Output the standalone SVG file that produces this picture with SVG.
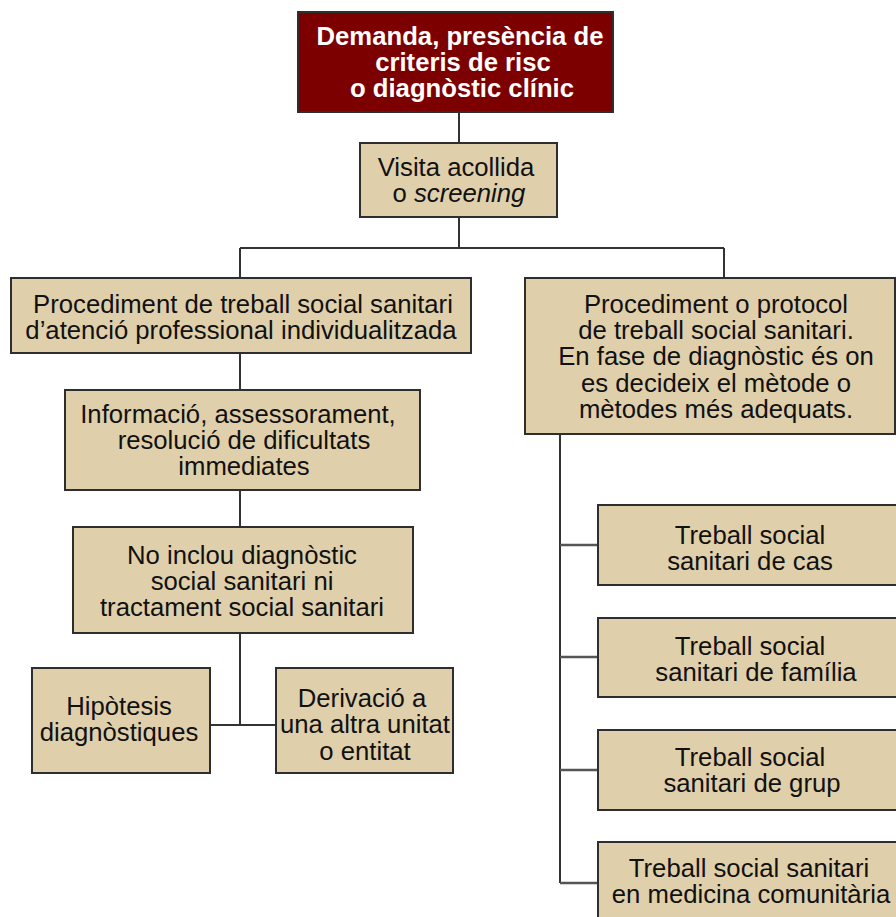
<svg xmlns="http://www.w3.org/2000/svg" width="896" height="917" viewBox="0 0 896 917">
<style>
.box{fill:#e0cfab;stroke:#2e2e2e;stroke-width:2}
.top{fill:#7d0000;stroke:#2e2e2e;stroke-width:2}
.t{font-family:"Liberation Sans",Arial,sans-serif;font-size:25.7px;fill:#111;text-anchor:middle}
.tw{font-family:"Liberation Sans",Arial,sans-serif;font-size:25.7px;font-weight:bold;fill:#fff;text-anchor:middle}
.c{fill:none;stroke:#333;stroke-width:2}
.cg{fill:none;stroke:#555;stroke-width:2.5}
</style>
<rect width="896" height="917" fill="#fff"/>
<g id="connectors">
<path class="c" d="M459 112V143M459 217V248M240 248H724M240 248V278M724 248V278"/>
<path class="c" d="M240 353V390M240 490V527M240 633V725M210 725H276"/>
<path class="c" d="M560 434V883"/>
<path class="cg" d="M560 545H598M560 657H598M560 770H598M560 883H598"/>
</g>
<g id="n-demanda">
<rect class="top" x="298" y="12" width="315" height="100"/>
<text class="tw" x="460" y="45">Demanda, presència de</text>
<text class="tw" x="463" y="71">criteris de risc</text>
<text class="tw" x="462" y="97">o diagnòstic clínic</text>
</g>
<g id="n-visita">
<rect class="box" x="360" y="143" width="197" height="74"/>
<text class="t" x="456" y="176">Visita acollida</text>
<text class="t" x="459" y="202">o <tspan font-style="italic">screening</tspan></text>
</g>
<g id="n-proc-ind">
<rect class="box" x="11" y="278" width="460" height="75"/>
<text class="t" x="243" y="313">Procediment de treball social sanitari</text>
<text class="t" x="241" y="339">d’atenció professional individualitzada</text>
</g>
<g id="n-proc-prot">
<rect class="box" x="525" y="278" width="370" height="156"/>
<text class="t" x="716" y="313">Procediment o protocol</text>
<text class="t" x="716" y="339">de treball social sanitari.</text>
<text class="t" x="716" y="365">En fase de diagnòstic és on</text>
<text class="t" x="716" y="392">es decideix el mètode o</text>
<text class="t" x="716" y="418">mètodes més adequats.</text>
</g>
<g id="n-info">
<rect class="box" x="65" y="390" width="355" height="100"/>
<text class="t" x="238" y="423">Informació, assessorament,</text>
<text class="t" x="244" y="449">resolució de dificultats</text>
<text class="t" x="244" y="475">immediates</text>
</g>
<g id="n-noinclou">
<rect class="box" x="73" y="527" width="340" height="106"/>
<text class="t" x="242" y="564">No inclou diagnòstic</text>
<text class="t" x="242" y="590">social sanitari ni</text>
<text class="t" x="242" y="616">tractament social sanitari</text>
</g>
<g id="n-hipotesis">
<rect class="box" x="32" y="668" width="178" height="105"/>
<text class="t" x="119" y="715">Hipòtesis</text>
<text class="t" x="119" y="741">diagnòstiques</text>
</g>
<g id="n-derivacio">
<rect class="box" x="276" y="668" width="177" height="105"/>
<text class="t" x="362" y="707">Derivació a</text>
<text class="t" x="365" y="733">una altra unitat</text>
<text class="t" x="365" y="760">o entitat</text>
</g>
<g id="n-cas">
<rect class="box" x="598" y="505" width="300" height="80"/>
<text class="t" x="750" y="544">Treball social</text>
<text class="t" x="750" y="570">sanitari de cas</text>
</g>
<g id="n-familia">
<rect class="box" x="598" y="618" width="300" height="79"/>
<text class="t" x="750" y="655">Treball social</text>
<text class="t" x="756" y="681">sanitari de família</text>
</g>
<g id="n-grup">
<rect class="box" x="598" y="730" width="300" height="80"/>
<text class="t" x="750" y="766">Treball social</text>
<text class="t" x="752" y="792">sanitari de grup</text>
</g>
<g id="n-comunitaria">
<rect class="box" x="598" y="842" width="300" height="80"/>
<text class="t" x="749" y="877">Treball social sanitari</text>
<text class="t" x="751" y="903">en medicina comunitària</text>
</g>
</svg>
